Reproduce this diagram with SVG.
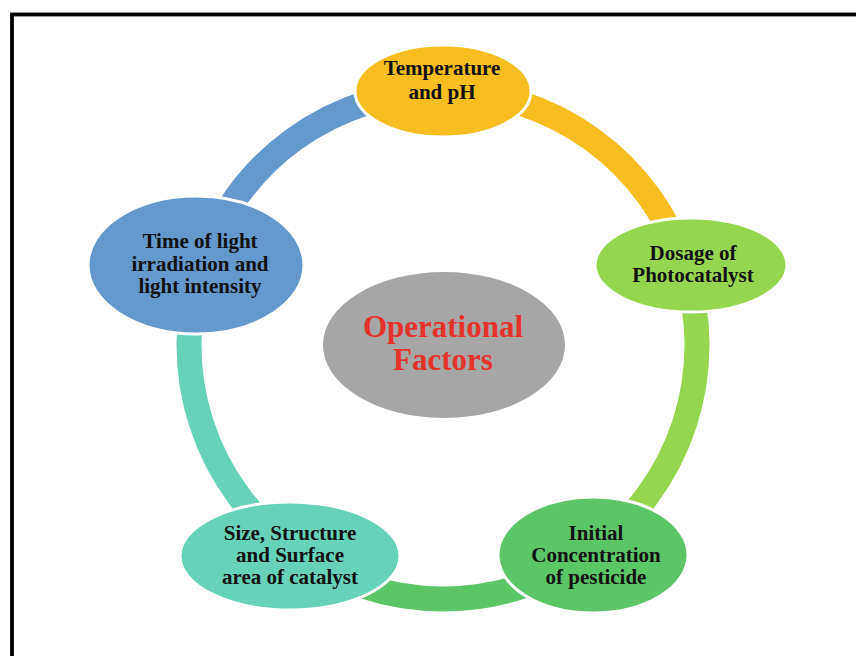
<svg xmlns="http://www.w3.org/2000/svg" width="856" height="656" viewBox="0 0 856 656">
  <style>
    .ring { fill: none; stroke-width: 25; stroke-linecap: butt; }
    .node { stroke: #ffffff; stroke-width: 3; }
    .label { font-family: "Liberation Serif", "Times New Roman", serif; font-weight: bold; font-size: 21px; fill: #111111; text-anchor: middle; }
    .title { font-family: "Liberation Serif", "Times New Roman", serif; font-weight: bold; font-size: 31px; fill: #E4322B; text-anchor: middle; }
  </style>

  <rect x="0" y="0" width="856" height="656" fill="#ffffff"/>
  <!-- outer frame (continues past the right and bottom edges) -->
  <rect x="12" y="14.5" width="870" height="670" fill="none" stroke="#000000" stroke-width="3.8"/>

  <!-- cycle ring, one arc per step, centre (443,345) r 254 -->
  <g id="connectors">
    <path class="ring" stroke="#F8BD1F" d="M 443 91 A 254 254 0 0 1 684.57 266.51"/>
    <path class="ring" stroke="#95D64F" d="M 684.57 266.51 A 254 254 0 0 1 592.3 550.49"/>
    <path class="ring" stroke="#5CC566" d="M 592.3 550.49 A 254 254 0 0 1 293.7 550.49"/>
    <path class="ring" stroke="#66D3B8" d="M 293.7 550.49 A 254 254 0 0 1 201.43 266.51"/>
    <path class="ring" stroke="#6399CC" d="M 201.43 266.51 A 254 254 0 0 1 443 91"/>
  </g>

  <g id="center">
    <ellipse cx="444" cy="345" rx="121" ry="73" fill="#A6A6A6"/>
    <text class="title" x="443" y="337">Operational</text>
    <text class="title" x="443" y="370">Factors</text>
  </g>

  <g id="temperature">
    <ellipse class="node" cx="443" cy="91" rx="88" ry="46" fill="#F8BD1F"/>
    <text class="label" x="442" y="75">Temperature</text>
    <text class="label" x="442" y="99">and pH</text>
  </g>

  <g id="dosage">
    <ellipse class="node" cx="691" cy="265" rx="96" ry="47" fill="#95D64F"/>
    <text class="label" x="693" y="260">Dosage of</text>
    <text class="label" x="693" y="282">Photocatalyst</text>
  </g>

  <g id="initial">
    <ellipse class="node" cx="593" cy="555" rx="95" ry="58" fill="#5CC566"/>
    <text class="label" x="596" y="540">Initial</text>
    <text class="label" x="596" y="562">Concentration</text>
    <text class="label" x="596" y="584">of pesticide</text>
  </g>

  <g id="size">
    <ellipse class="node" cx="290" cy="556" rx="110" ry="54" fill="#66D3B8"/>
    <text class="label" x="290" y="540">Size, Structure</text>
    <text class="label" x="290" y="562">and Surface</text>
    <text class="label" x="290" y="584">area of catalyst</text>
  </g>

  <g id="time">
    <ellipse class="node" cx="196" cy="265" rx="108" ry="69" fill="#6399CC"/>
    <text class="label" x="200" y="248">Time of light</text>
    <text class="label" x="200" y="271">irradiation and</text>
    <text class="label" x="200" y="293">light intensity</text>
  </g>
</svg>
